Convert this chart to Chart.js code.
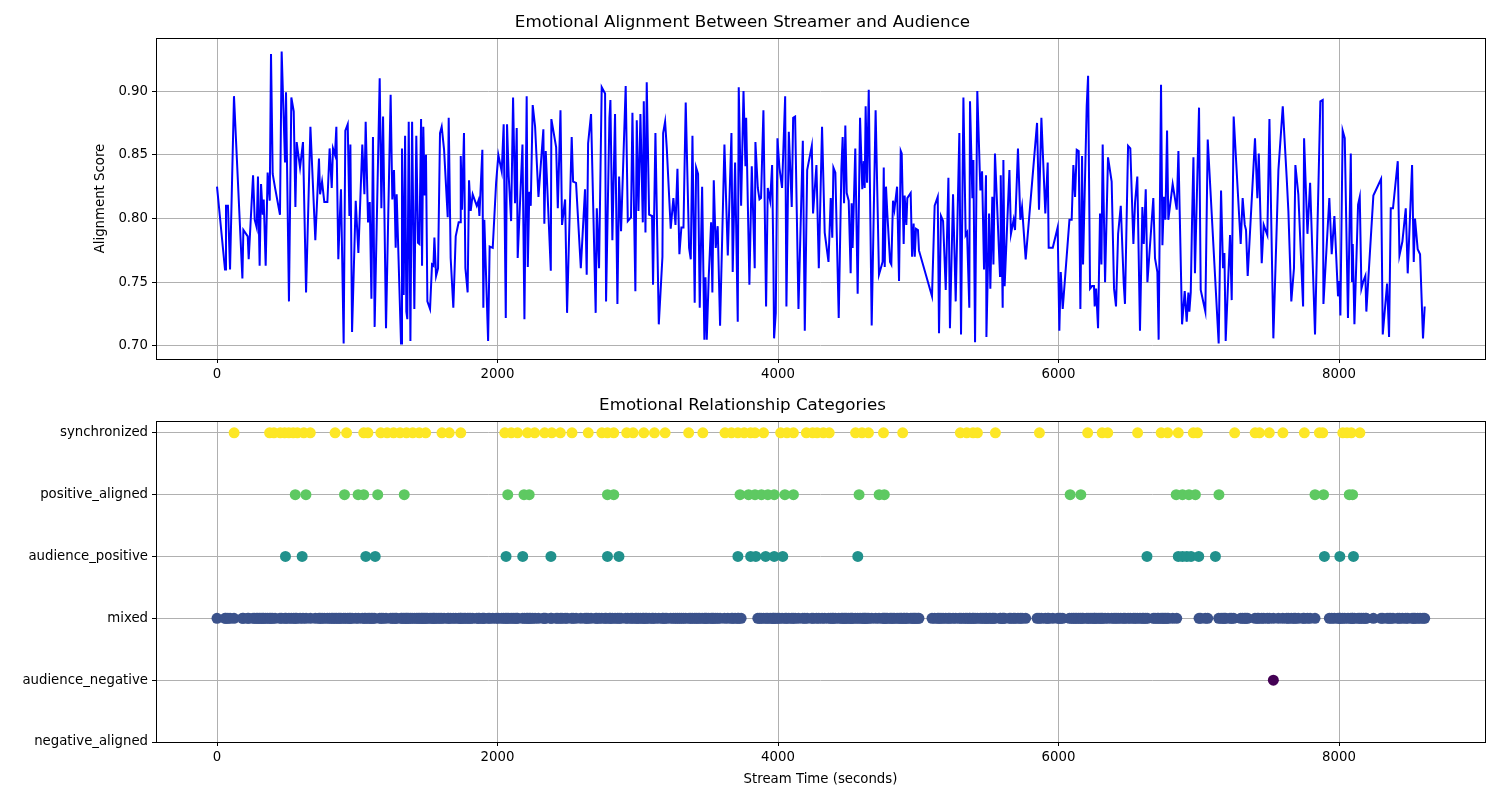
<!DOCTYPE html>
<html>
<head>
<meta charset="utf-8">
<script src="https://cdn.jsdelivr.net/npm/chart.js@4.4.0/dist/chart.umd.min.js"></script>
<style>
  body { margin: 0; background: #fff; }
  #wrap { position: relative; width: 1500px; height: 800px; }
  .box { position: absolute; left: 0; width: 1500px; }
</style>
</head>
<body>
<div id="wrap">
  <div class="box" style="top:0;height:400px"><canvas id="top"></canvas></div>
  <div class="box" style="top:383px;height:417px"><canvas id="bottom"></canvas></div>
</div>
<script>
// stream time (s) and alignment score
const streamTimes = [
  0,57,64,78,93,121,181,188,219,226,257,269,283,292,304,314,326,333,347,361,376,385,397,414,449,461,485,492,513,530,
  547,559,568,592,613,635,666,701,727,735,749,765,787,803,818,827,841,851,865,875,884,903,915,932,944,951,963,989,1008,1036,
  1051,1060,1077,1089,1101,1112,1124,1160,1172,1184,1205,1238,1250,1262,1274,1281,1312,1319,1331,1341,1350,1357,1367,1379,1391,1407,1421,1433,1443,1455,
  1462,1471,1481,1490,1500,1519,1533,1543,1550,1562,1576,1590,1602,1619,1645,1652,1666,1685,1702,1723,1733,1738,1747,1761,1771,1787,1797,1809,1823,1852,
  1864,1871,1892,1899,1906,1933,1944,1966,1990,
  2006,2030,2044,2059,2068,2080,2097,2111,2125,2137,2144,2178,2192,2208,2216,2227,2237,2251,2268,2292,2327,2334,2344,2380,2384,2418,2430,2449,2460,2482,
  2496,2529,2539,2560,2594,2624,2636,2646,2667,2700,2708,2724,2743,2767,2774,2798,2805,2819,2838,2855,2867,2881,2914,2929,2952,2962,2983,2993,3005,3019,
  3036,3043,3055,3064,3081,3102,3109,3126,3150,3176,3181,3195,3207,3235,3254,3269,3283,3297,3311,3326,3342,3366,3378,3390,3406,3416,3430,3442,3459,3475,
  3483,3492,3506,3523,3532,3542,3556,3570,3587,3618,3642,3668,3677,3694,3713,3720,3737,3754,3768,3773,3796,3813,3834,3839,3856,3868,3879,3896,3915,3927,
  3944,3958,3967,3972,3984,3996,4010,4029,4051,4060,4077,4098,4108,4122,4146,4177,4191,4208,4241,4250,4274,4291,4314,4333,4360,
  4376,4387,4395,4409,4433,4452,4461,4471,4480,4490,4504,4518,4525,4532,4551,4568,4585,4601,4611,4618,4625,4635,4647,4668,4696,4720,4746,4754,4761,4770,
  4780,4799,4808,4820,4830,4849,4863,4875,4882,4896,4903,4915,4922,4946,4956,4967,4975,4984,4998,5005,5098,5117,5139,5148,5162,5177,5196,5215,5226,5248,
  5267,5293,5305,5322,5338,5348,5364,5369,5386,5393,5405,5421,5443,5455,5469,5483,5486,5505,5514,5528,5536,5547,5583,5588,5602,5607,5616,5650,5661,5680,
  5690,5711,5728,5740,5766,5847,5861,5878,5906,5923,5930,5959,5994,6006,6016,6030,6078,6094,6106,6118,6130,6144,6156,6168,6175,6201,6211,6225,6239,6253,
  6258,6268,6282,6296,6306,6315,6332,6353,6379,6396,6410,6425,6444,6465,6474,6496,6512,6534,6546,6562,6581,6598,6608,6622,6634,6676,6688,6705,6714,
  6731,6741,6752,6762,6774,6783,6814,6843,6855,6881,6900,6914,6926,6933,6943,6952,6962,6973,7002,7014,7047,7064,7142,7159,7173,7183,7192,7223,7235,7249,
  7299,7313,7328,7337,7349,7401,7418,7428,7449,7463,7489,7504,7532,7568,7599,7627,7639,7660,7679,7689,7710,7744,7751,7775,7794,7829,7867,7884,7889,7931,
  7948,7967,7993,8003,8010,8026,8041,8064,8084,8093,8098,8110,8136,8148,8160,8174,8188,8195,8245,8300,8312,8343,8357,8369,8385,8419,8431,8452,8476,8490,
  8521,8533,8542,8561,8578,8599,8611
];
const alignmentScores = [
  0.825,0.760,0.810,0.810,0.760,0.896,0.753,0.791,0.786,0.768,0.834,0.799,0.793,0.833,0.763,0.827,0.803,0.815,0.763,0.836,0.814,0.929,0.835,0.824,0.803,0.931,0.844,0.899,0.735,0.895,
  0.884,0.809,0.860,0.840,0.860,0.742,0.872,0.783,0.847,0.819,0.829,0.813,0.813,0.855,0.824,0.855,0.850,0.872,0.768,0.799,0.823,0.702,0.869,0.874,0.802,0.858,0.711,0.814,0.773,0.858,
  0.819,0.876,0.797,0.813,0.737,0.864,0.715,0.910,0.808,0.880,0.714,0.897,0.815,0.838,0.777,0.819,0.702,0.855,0.740,0.865,0.727,0.721,0.876,0.704,0.876,0.729,0.865,0.781,0.780,0.878,
  0.763,0.872,0.818,0.850,0.735,0.729,0.764,0.763,0.785,0.755,0.761,0.867,0.872,0.854,0.801,0.879,0.769,0.730,0.786,0.797,0.797,0.849,0.807,0.867,0.761,0.742,0.830,0.806,0.819,0.810,
  0.814,0.802,0.854,0.730,0.799,0.704,0.778,0.777,0.828,
  0.850,0.837,0.874,0.722,0.874,0.833,0.798,0.895,0.812,0.871,0.769,0.858,0.721,0.896,0.762,0.821,0.810,0.889,0.872,0.817,0.870,0.796,0.853,0.759,0.878,0.856,0.808,0.885,0.795,0.815,
  0.726,0.864,0.829,0.828,0.761,0.823,0.756,0.859,0.882,0.726,0.808,0.761,0.903,0.898,0.735,0.879,0.893,0.783,0.882,0.733,0.833,0.790,0.904,0.798,0.801,0.883,0.743,0.877,0.806,0.882,
  0.797,0.892,0.789,0.907,0.803,0.802,0.748,0.867,0.717,0.770,0.867,0.876,0.855,0.792,0.816,0.795,0.839,0.772,0.793,0.793,0.891,0.777,0.768,0.865,0.734,0.840,0.835,0.730,0.825,0.705,
  0.754,0.705,0.754,0.797,0.742,0.830,0.777,0.794,0.716,0.858,0.771,0.867,0.758,0.844,0.719,0.903,0.810,0.900,0.841,0.879,0.748,0.841,0.761,0.860,0.824,0.815,0.816,0.885,0.731,0.824,
  0.814,0.842,0.768,0.706,0.726,0.863,0.840,0.824,0.896,0.731,0.868,0.809,0.879,0.880,0.729,0.861,0.712,0.838,0.857,0.804,0.842,0.761,0.872,0.789,0.766,
  0.816,0.785,0.840,0.836,0.722,0.839,0.864,0.812,0.873,0.820,0.814,0.757,0.812,0.777,0.855,0.741,0.879,0.823,0.845,0.824,0.888,0.828,0.901,0.716,0.885,0.756,0.766,0.840,0.762,0.825,
  0.803,0.766,0.764,0.814,0.807,0.825,0.751,0.853,0.851,0.780,0.818,0.795,0.816,0.820,0.770,0.796,0.770,0.792,0.791,0.775,0.739,0.810,0.817,0.710,0.802,0.798,0.744,0.832,0.714,0.819,
  0.735,0.867,0.709,0.895,0.787,0.789,0.730,0.892,0.816,0.846,0.703,0.900,0.822,0.837,0.760,0.834,0.707,0.804,0.745,0.817,0.764,0.851,0.755,0.834,0.730,0.846,0.747,0.838,0.788,0.799,
  0.791,0.855,0.799,0.809,0.768,0.875,0.807,0.879,0.804,0.844,0.777,0.777,0.793,0.712,0.758,0.729,0.799,0.799,0.842,0.817,0.854,0.853,0.729,0.849,0.764,0.888,0.912,0.745,0.747,0.747,
  0.731,0.745,0.714,0.804,0.764,0.858,0.750,0.848,0.829,0.745,0.731,0.788,0.810,0.749,0.733,0.857,0.855,0.780,0.813,0.833,0.712,0.809,0.780,0.823,0.750,0.816,0.769,0.758,0.705,
  0.905,0.779,0.817,0.799,0.869,0.799,0.827,0.807,0.853,0.717,0.743,0.719,0.742,0.727,0.742,0.797,0.848,0.757,0.887,0.744,0.727,0.862,0.702,0.822,0.761,0.773,0.704,0.787,0.736,0.880,
  0.780,0.816,0.795,0.791,0.755,0.863,0.816,0.851,0.765,0.795,0.787,0.878,0.706,0.838,0.888,0.832,0.806,0.735,0.761,0.842,0.819,0.731,0.863,0.788,0.828,0.709,0.892,0.893,0.733,0.816,
  0.772,0.802,0.739,0.751,0.724,0.869,0.863,0.722,0.851,0.751,0.780,0.717,0.811,0.817,0.745,0.751,0.755,0.727,0.818,0.831,0.709,0.749,0.707,0.808,0.808,0.845,0.771,0.782,0.808,0.757,
  0.842,0.766,0.800,0.776,0.772,0.706,0.731
];

// category rows, bottom to top
const categoryLabels = ["negative_aligned", "audience_negative", "mixed", "audience_positive", "positive_aligned", "synchronized"];
const categoryColors = ["#440154", "#440154", "#3b528b", "#21918c", "#5ec962", "#fde725"];

// times at which each non-mixed category occurs
const synchronizedTimes = [122,375,406,451,482,512,543,573,619,665,842,924,1046,1076,1168,1213,1259,1305,1351,1396,1442,1488,1604,1656,1738,
  2052,2098,2143,2214,2265,2336,2387,2448,2531,2647,2744,2784,2829,2921,2967,3043,3119,3195,3363,3464,3622,3668,3714,3759,3805,3836,3897,
  4019,4064,4110,4202,4247,4279,4323,4365,4553,4599,4645,4752,4889,5300,5346,5391,5422,5550,5864,6208,6311,6351,6564,6732,6778,6854,6961,6991,
  7256,7402,7433,7503,7600,7753,7860,7884,8027,8057,8088,8149];
const positiveAlignedTimes = [558,634,909,1006,1046,1146,1335,2073,2189,2226,2784,2829,3729,3790,3836,3882,3928,3973,4049,4110,
  4578,4721,4758,6083,6159,6839,6884,6930,6976,7144,7829,7890,8073,8097];
const audiencePositiveTimes = [488,607,1061,1128,2061,2180,2381,2784,2866,3714,3805,3842,3912,3973,4034,
  4569,6631,6854,6884,6915,6945,7000,7119,7896,8006,8103];
const audienceNegativeTimes = [7532];
const negativeAlignedTimes = [];
// spans where no "mixed" point appears
const mixedGaps = [[3740, 3852], [5020, 5090], [6850, 6985], [7830, 7905]];

const mixedTimes = streamTimes.filter(t => !mixedGaps.some(g => t > g[0] && t < g[1]));
const timesByCategory = [negativeAlignedTimes, audienceNegativeTimes, mixedTimes, audiencePositiveTimes, positiveAlignedTimes, synchronizedTimes];

const FONT = "'DejaVu Sans', sans-serif";
Chart.defaults.font.family = FONT;
Chart.defaults.font.size = 13.3;
Chart.defaults.color = "#000";
Chart.defaults.animation = false;

// black frame round the plot area, like matplotlib spines
const frame = {
  id: "frame",
  afterDraw(chart) {
    const { ctx, chartArea: a } = chart;
    ctx.save();
    ctx.strokeStyle = "#000";
    ctx.lineWidth = 1;
    ctx.strokeRect(Math.round(a.left) + 0.5, Math.round(a.top) + 0.5, Math.round(a.right - a.left), Math.round(a.bottom - a.top));
    // y axis label sits next to the tick labels
    const label = chart.options.yLabel;
    if (label) {
      ctx.translate(101, (a.top + a.bottom) / 2);
      ctx.rotate(-Math.PI / 2);
      ctx.fillStyle = "#000";
      ctx.font = "13.3px " + FONT;
      ctx.textAlign = "center";
      ctx.textBaseline = "middle";
      ctx.fillText(label, 0, 0);
    }
    ctx.restore();
  }
};

function xScale(withTitle, height) {
  return {
    type: "linear",
    min: -435, max: 9041,
    afterBuildTicks: s => { s.ticks = [0, 2000, 4000, 6000, 8000].map(v => ({ value: v })); },
    afterFit: s => { s.height = height; },
    ticks: { callback: v => String(v), padding: 4, maxRotation: 0 },
    grid: { color: "#b0b0b0", tickColor: "#000", tickLength: 4, drawOnChartArea: true },
    border: { display: false },
    title: { display: withTitle, text: "Stream Time (seconds)", font: { size: 13.3 }, padding: { top: 4, bottom: 12 } }
  };
}

function titleOpts(text) {
  return { display: true, text, font: { size: 16.7, weight: "normal" }, padding: { top: 13, bottom: 5 }, color: "#000" };
}

new Chart(document.getElementById("top"), {
  type: "line",
  data: {
    datasets: [{
      data: streamTimes.map((t, i) => ({ x: t, y: alignmentScores[i] })),
      borderColor: "#0000ff",
      borderWidth: 2,
      pointRadius: 0,
      tension: 0
    }]
  },
  options: {
    responsive: true,
    maintainAspectRatio: false,
    yLabel: "Alignment Score",
    layout: { padding: { left: 0, right: 15 } },
    plugins: { legend: { display: false }, tooltip: { enabled: false }, title: titleOpts("Emotional Alignment Between Streamer and Audience") },
    scales: {
      x: xScale(false, 41),
      y: {
        min: 0.6898, max: 0.9416,
        afterBuildTicks: s => { s.ticks = [0.70, 0.75, 0.80, 0.85, 0.90].map(v => ({ value: v })); },
        afterFit: s => { s.width = 156; },
        ticks: { callback: v => v.toFixed(2), padding: 4 },
        grid: { color: "#b0b0b0", tickColor: "#000", tickLength: 4 },
        border: { display: false }
      }
    }
  },
  plugins: [frame]
});

new Chart(document.getElementById("bottom"), {
  type: "scatter",
  data: {
    datasets: timesByCategory.map((times, c) => ({
      data: times.map(t => ({ x: t, y: c })),
      backgroundColor: categoryColors[c],
      borderWidth: 0,
      pointRadius: 5.5
    }))
  },
  options: {
    responsive: true,
    maintainAspectRatio: false,
    layout: { padding: { left: 0, right: 15 } },
    plugins: { legend: { display: false }, tooltip: { enabled: false }, title: titleOpts("Emotional Relationship Categories") },
    scales: {
      x: Object.assign(xScale(true, 58), { z: 1 }),
      y: {
        z: 1,
        min: 0, max: 5.19,
        afterBuildTicks: s => { s.ticks = [0, 1, 2, 3, 4, 5].map(v => ({ value: v })); },
        afterFit: s => { s.width = 156; },
        ticks: { callback: v => categoryLabels[v] || "", padding: 4 },
        grid: { color: "#b0b0b0", tickColor: "#000", tickLength: 4 },
        border: { display: false }
      }
    }
  },
  plugins: [frame]
});
</script>
</body>
</html>
